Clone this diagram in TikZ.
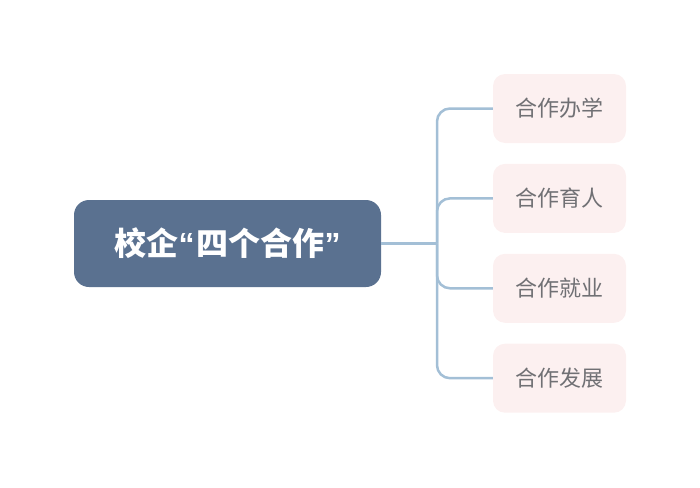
\documentclass[tikz,border=0pt]{standalone}
\usepackage{fontspec}
\usepackage{xcolor,tikz}
\usetikzlibrary{positioning,calc}
\newfontfamily\cjk{Noto Sans CJK SC}
\newfontfamily\lat{Liberation Sans}
\definecolor{slate}{HTML}{5A7190}
\definecolor{blush}{HTML}{FCF0F0}
\definecolor{stone}{HTML}{707074}
\definecolor{sky}{HTML}{A3BFD6}
\tikzset{root/.style={fill=slate,rounded corners=15pt,align=center,font=\cjk\bfseries\fontsize{32}{36}\selectfont,text=white,minimum height=87pt,minimum width=307pt,inner sep=0pt},leaf/.style={fill=blush,rounded corners=12pt,align=center,font=\cjk\fontsize{22}{26}\selectfont,text=stone,minimum height=69pt,minimum width=133pt,inner sep=0pt},link/.style={draw=sky,line width=2.5pt,rounded corners=13pt}}

\begin{document}
\begin{tikzpicture}[x=1pt,y=-1pt]
\useasboundingbox (0,0) rectangle (700,487);
\node[root] (r) at (227.5,243.5) {校企{\lat\bfseries“}\kern2pt 四个合作{\lat\bfseries”}};
\node[leaf] (c1) at (559.5,108.5) {合作办学};
\node[leaf,below=20.5pt of c1] (c2) {合作育人};
\node[leaf,below=20.5pt of c2] (c3) {合作就业};
\node[leaf,below=20.5pt of c3] (c4) {合作发展};
\coordinate (j) at (437,243.5);
\draw[link] (r.east)--(j);
\foreach \c in {c1,c2,c3,c4}{\draw[link] (j) |- (\c.west);}
\end{tikzpicture}
\end{document}
